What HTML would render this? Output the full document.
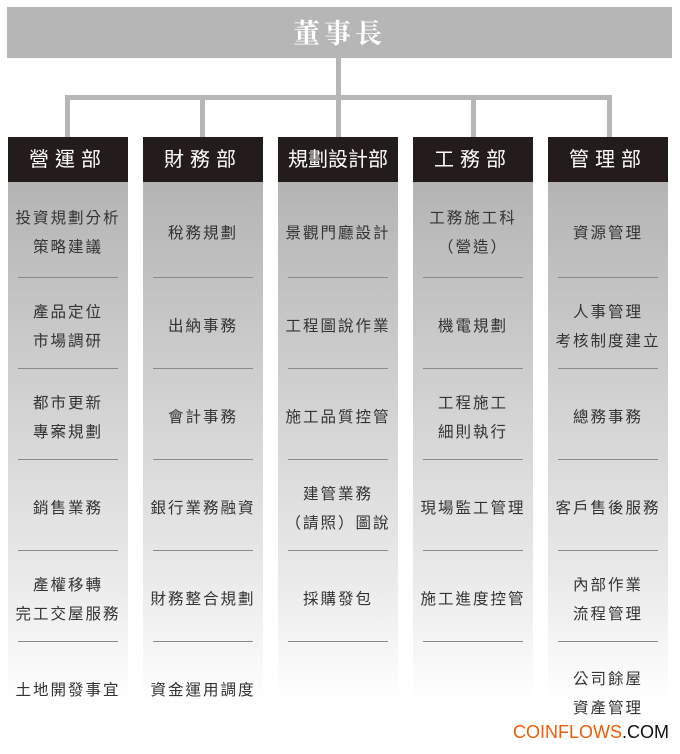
<!DOCTYPE html>
<html><head><meta charset="utf-8"><style>
body{margin:0;width:680px;height:754px;background:#fff;position:relative;overflow:hidden;font-family:"Liberation Sans","Noto Sans CJK TC",sans-serif;}
.top{position:absolute;left:7px;top:7px;width:665px;height:51px;background:#b6b6b6;color:#fff;font-family:"Liberation Serif","Noto Serif CJK SC",serif;font-weight:bold;font-size:27px;letter-spacing:4px;text-align:center;line-height:54px;}
.l{position:absolute;background:#b6b6b6;}
.col{position:absolute;top:137px;width:120px;}
.hd{height:45px;background:#231c1a;color:#fff;font-size:20px;text-align:center;line-height:47px;letter-spacing:6px;}
.bd{height:520px;background:linear-gradient(#b4b4b4,#e9e9e9 75%,#fff 100%);}
.c{height:91px;box-sizing:border-box;padding-top:6px;display:flex;align-items:center;justify-content:center;text-align:center;font-size:15.5px;line-height:29px;letter-spacing:2px;color:#333;position:relative;}
.c:not(:last-child)::after{content:"";position:absolute;left:10px;right:10px;bottom:0;height:1px;background:#8a8a8a;}
.w{position:absolute;left:513px;top:722px;font-size:18px;color:#111;}
</style></head><body>
<div class="top">董事長</div>
<div class="l" style="left:336px;top:58px;width:5px;height:42px"></div>
<div class="l" style="left:65px;top:95px;width:547px;height:5px"></div>
<div class="l" style="left:65px;top:95px;width:5px;height:42px"></div>
<div class="l" style="left:200px;top:95px;width:5px;height:42px"></div>
<div class="l" style="left:336px;top:95px;width:5px;height:42px"></div>
<div class="l" style="left:471px;top:95px;width:5px;height:42px"></div>
<div class="l" style="left:607px;top:95px;width:5px;height:42px"></div>

<div class="col" style="left:8px"><div class="hd">營運部</div><div class="bd">
<div class="c" style="height:96px">投資規劃分析<br>策略建議</div><div class="c">產品定位<br>市場調研</div><div class="c">都市更新<br>專案規劃</div><div class="c">銷售業務</div><div class="c">產權移轉<br>完工交屋服務</div><div class="c">土地開發事宜</div></div></div>

<div class="col" style="left:143px"><div class="hd">財務部</div><div class="bd">
<div class="c" style="height:96px">稅務規劃</div><div class="c">出納事務</div><div class="c">會計事務</div><div class="c">銀行業務融資</div><div class="c">財務整合規劃</div><div class="c">資金運用調度</div></div></div>

<div class="col" style="left:278px"><div class="hd" style="letter-spacing:0">規劃設計部</div><div class="bd">
<div class="c" style="height:96px">景觀門廳設計</div><div class="c">工程圖說作業</div><div class="c">施工品質控管</div><div class="c">建管業務<br>（請照）圖說</div><div class="c">採購發包</div><div class="c"></div></div></div>

<div class="col" style="left:413px"><div class="hd">工務部</div><div class="bd">
<div class="c" style="height:96px">工務施工科<br>（營造）</div><div class="c">機電規劃</div><div class="c">工程施工<br>細則執行</div><div class="c">現場監工管理</div><div class="c">施工進度控管</div><div class="c"></div></div></div>

<div class="col" style="left:548px"><div class="hd">管理部</div><div class="bd">
<div class="c" style="height:96px">資源管理</div><div class="c">人事管理<br>考核制度建立</div><div class="c">總務事務</div><div class="c">客戶售後服務</div><div class="c">內部作業<br>流程管理</div><div class="c" style="padding-top:12px">公司餘屋<br>資產管理</div></div></div>

<div class="w"><span style="color:#f25c05">COINFLOWS</span>.COM</div>
</body></html>
